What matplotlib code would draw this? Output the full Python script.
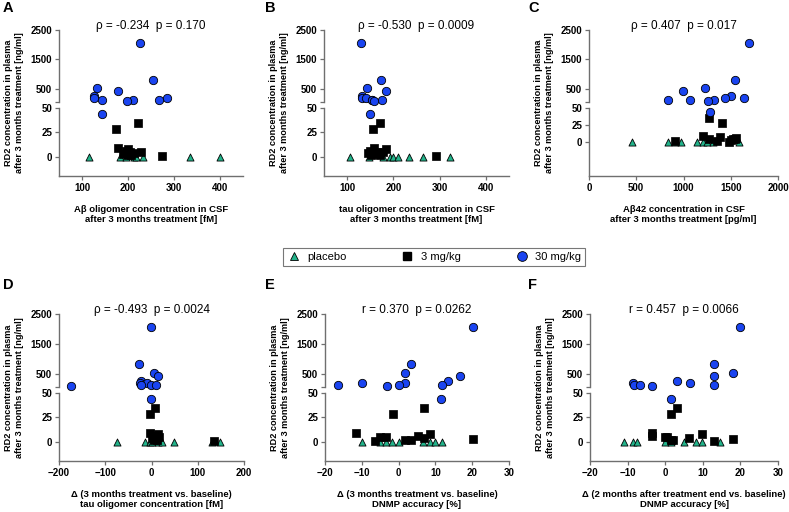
import matplotlib
matplotlib.use('Agg')
import matplotlib.pyplot as plt
from matplotlib.lines import Line2D

plt.rcParams['font.family'] = ['Liberation Sans', 'DejaVu Sans']
plt.rcParams['font.weight'] = 'bold'

W, H = 789, 512

# RD2 plasma concentration (ng/ml), same animals in each panel
rd2_30 = [2070, 815, 520, 430, 265, 195, 170, 125, 105, 105, 80, 44]
rd2_3 = [35, 28, 9, 8, 5.5, 5, 4.8, 3.8, 2.7, 2, 1.4, 0.7]

# Panel A: Abeta oligomer in CSF [fM]
A_x30 = [226, 254, 133, 178, 125, 125, 284, 143, 210, 268, 197, 143]
A_x3 = [221, 173, 179, 200, 195, 228, 205, 212, 190, 200, 207, 274]
A_xpl = [116, 183, 195, 213, 218, 233, 334, 400]

# Panel B: tau oligomer in CSF [fM]
B_x30 = [130, 173, 144, 185, 133, 133, 141, 153, 153, 175, 159, 149]
B_x3 = [172, 156, 158, 185, 150, 165, 178, 145, 160, 152, 170, 292]
B_xpl = [106, 147, 178, 193, 200, 210, 233, 265, 322]

# Panel C: Abeta42 in CSF [pg/ml]
C_x30 = [1694, 1550, 1225, 995, 1499, 1643, 1434, 832, 1067, 1326, 1261, 1283]
C_x3 = [1265, 1405, 1207, 1384, 1557, 1265, 1540, 1525, 1500, 1355, 912, 1480]
C_xpl = [455, 832, 905, 977, 1146, 1207, 1250, 1308, 1589]

# Panel D: delta tau oligomer [fM]
D_x30 = [-1.4, -27, 6, 15, -22, -24, -9, -22, -2, 9, -173, -2]
D_x3 = [6.5, -4, -4, 15, 3, 10, 16, 0, 8, 12, 5, 135]
D_xpl = [-74, -13, -4, 2, 13, 22, 48, 130, 149]

# Panel E: delta DNMP accuracy (3 months) [%]
E_x30 = [20.2, 3.4, 1.8, 16.7, 13.4, -10, 1.8, -16.6, 0, 11.8, -3.2, 11.6]
E_x3 = [6.8, -1.5, -11.5, 8.4, 5.2, -5, -3.3, 6.8, 20.2, 1.8, 3.4, -6.5]
E_xpl = [-10, -5, -3.3, -1.7, 0, 6.7, 8.4, 10, 11.8]

# Panel F: delta DNMP accuracy (2 months after end) [%]
F_x30 = [19.9, 13.1, 18.1, 13.1, 3.1, 6.7, -8.5, -8.3, -6.7, 13.1, -3.4, 1.6]
F_x3 = [3.2, 1.6, -3.4, 9.8, -3.4, 0, 0.5, 6.4, 18, 1.6, 2, 13]
F_xpl = [-10.9, -8.5, -7.5, 0, 1.5, 4.9, 8.2, 9.8, 14.7]

stats = ["ρ = -0.234  p = 0.170", "ρ = -0.530  p = 0.0009", "ρ = 0.407  p = 0.017",
         "ρ = -0.493  p = 0.0024", "r = 0.370  p = 0.0262", "r = 0.457  p = 0.0066"]
letters = ["A", "B", "C", "D", "E", "F"]
xlabels = ["Aβ oligomer concentration in CSF\nafter 3 months treatment [fM]",
           "tau oligomer concentration in CSF\nafter 3 months treatment [fM]",
           "Aβ42 concentration in CSF\nafter 3 months treatment [pg/ml]",
           "Δ (3 months treatment vs. baseline)\ntau oligomer concentration [fM]",
           "Δ (3 months treatment vs. baseline)\nDNMP accuracy [%]",
           "Δ (2 months after treatment end vs. baseline)\nDNMP accuracy [%]"]
xlims = [(50, 450), (50, 450), (0, 2000), (-200, 200), (-20, 30), (-20, 30)]
xticks = [[100, 200, 300, 400], [100, 200, 300, 400], [0, 500, 1000, 1500, 2000],
          [-200, -100, 0, 100, 200], [-20, -10, 0, 10, 20, 30], [-20, -10, 0, 10, 20, 30]]
lower_ylims = [(-20, 50), (-20, 50), (-50, 50), (-20, 50), (-20, 50), (-20, 50)]
x30s = [A_x30, B_x30, C_x30, D_x30, E_x30, F_x30]
x3s = [A_x3, B_x3, C_x3, D_x3, E_x3, F_x3]
xpls = [A_xpl, B_xpl, C_xpl, D_xpl, E_xpl, F_xpl]

# pixel layout: (left, right, top, upper_bottom, lower_top, bottom)
layout = [(59, 243, 30, 102, 108, 176), (324, 509, 30, 102, 108, 176),
          (589, 778, 30, 102, 108, 176), (59, 244, 314, 387, 393, 461),
          (325, 509, 314, 387, 393, 461), (590, 778, 314, 387, 393, 461)]

BLUE = '#1a44f0'
GREEN = '#22b38a'
SPINE = '#6f6f6f'
BREAK = 50

fig = plt.figure(figsize=(W / 100, H / 100), dpi=100)


def rect(l, r, t, b):
    return [l / W, 1 - b / H, (r - l) / W, (b - t) / H]


def style(ax):
    for s in ['top', 'right']:
        ax.spines[s].set_visible(False)
    for s in ['left', 'bottom']:
        ax.spines[s].set_color(SPINE)
        ax.spines[s].set_linewidth(1.0)
    ax.tick_params(axis='both', which='both', direction='out', length=3, width=0.9,
                   color=SPINE, labelsize=7, pad=2)


def scatter_all(ax, xs30, xs3, xspl, upper):
    def sel(xs, ys):
        pts = [(x, y) for x, y in zip(xs, ys) if (y >= BREAK) == upper]
        return [p[0] for p in pts], [p[1] for p in pts]
    px, py = sel(xspl, [0] * len(xspl))
    if px:
        ax.scatter(px, py, s=26, marker='^', color=GREEN, edgecolors='black',
                   linewidths=0.6, zorder=3, clip_on=False)
    px, py = sel(xs3, rd2_3)
    if px:
        ax.scatter(px, py, s=30, marker='s', color='black', edgecolors='black',
                   linewidths=0.5, zorder=4, clip_on=False)
    px, py = sel(xs30, rd2_30)
    if px:
        ax.scatter(px, py, s=36, marker='o', color=BLUE, edgecolors='black',
                   linewidths=0.6, zorder=5, clip_on=False)


for i in range(6):
    l, r, t, ub, lt, b = layout[i]
    axu = fig.add_axes(rect(l, r, t, ub))
    axl = fig.add_axes(rect(l, r, lt, b))
    scatter_all(axu, x30s[i], x3s[i], xpls[i], True)
    scatter_all(axl, x30s[i], x3s[i], xpls[i], False)
    for ax in (axu, axl):
        ax.set_xlim(*xlims[i])
        ax.set_xticks(xticks[i])
    axu.set_ylim(BREAK, 2500)
    axu.set_yticks([500, 1500, 2500])
    axu.set_yticks([BREAK], minor=True)
    axu.spines['bottom'].set_visible(False)
    axu.tick_params(axis='x', which='both', bottom=False, labelbottom=False)
    axl.set_ylim(*lower_ylims[i])
    axl.set_yticks([0, 25, 50])
    style(axu)
    style(axl)

    cx = (l + r) / 2
    fig.text(cx / W, 1 - (t - 4) / H, stats[i], ha='center', va='center',
             fontsize=8.5, fontweight='normal')
    fig.text(cx / W, 1 - (b + 38.5) / H, xlabels[i], ha='center', va='center',
             fontsize=6.8, fontweight='bold', linespacing=1.25)
    fig.text((l - 45) / W, 1 - ((t + b) / 2) / H,
             "RD2 concentration in plasma\nafter 3 months treatment [ng/ml]",
             rotation=90, ha='center', va='center', fontsize=6.6,
             fontweight='bold', linespacing=1.25)
    lx = 3 if i % 3 == 0 else (265 if i % 3 == 1 else 528)
    ly = 8 if i < 3 else 285
    fig.text(lx / W, 1 - ly / H, letters[i], ha='left', va='center',
             fontsize=10.5, fontweight='bold')

handles = [
    Line2D([], [], linestyle='none', marker='^', markersize=6, color=GREEN,
           markeredgecolor='black', markeredgewidth=0.6),
    Line2D([], [], linestyle='none', marker='s', markersize=6, color='black'),
    Line2D([], [], linestyle='none', marker='o', markersize=7, color=BLUE,
           markeredgecolor='black', markeredgewidth=0.6),
]
leg = fig.legend(handles, ['placebo', '3 mg/kg', '30 mg/kg'], ncol=3,
                 loc='lower left', mode='expand', borderaxespad=0,
                 bbox_to_anchor=(283 / W, 1 - 266 / H, 302 / W, 21 / H),
                 prop={'size': 8, 'weight': 'normal'}, frameon=True,
                 fancybox=False, handletextpad=0.6,
                 handlelength=1.2, borderpad=0.35)
leg.get_frame().set_edgecolor('#555555')
leg.get_frame().set_linewidth(0.8)

fig.savefig('out.png', dpi=100)
